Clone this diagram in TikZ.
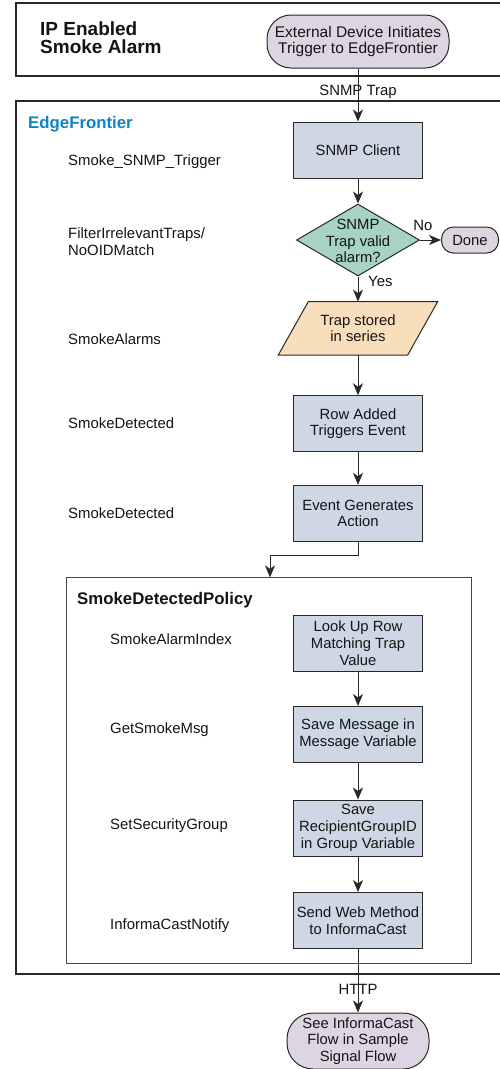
\documentclass[tikz,border=0pt]{standalone}
\usepackage{fontspec}
\setmainfont{Liberation Sans}
\usetikzlibrary{shapes.geometric,arrows.meta}
\definecolor{boxblue}{RGB}{206,215,227}
\definecolor{teal}{RGB}{166,211,198}
\definecolor{peach}{RGB}{249,222,188}
\definecolor{lav}{RGB}{221,214,226}
\definecolor{efblue}{RGB}{14,132,198}
\definecolor{linecol}{RGB}{40,40,40}
\definecolor{txt}{RGB}{20,20,20}
\begin{document}
\begin{tikzpicture}[x=1pt,y=-1pt,
  every node/.style={text=txt},
  boxfont/.style={font=\fontsize{14.8}{16.7}\selectfont},
  lblfont/.style={font=\fontsize{14.9}{16.7}\selectfont},
  proc/.style={boxfont, draw=linecol, fill=boxblue, line width=1pt, minimum width=129pt, minimum height=56pt, inner sep=1pt, align=center},
  term/.style={boxfont, draw=linecol, fill=lav, line width=1pt, inner sep=1pt, align=center},
  lbl/.style={lblfont, anchor=base west, inner sep=0pt, align=left},
  conlbl/.style={lblfont, anchor=base, inner sep=0pt},
  frame/.style={draw=linecol, line width=1.2pt},
  arr/.style={draw=linecol, line width=1pt, -{Stealth[length=12pt,width=10pt,inset=3.5pt]}}]

\useasboundingbox (0,0) rectangle (499,1069);

% frames
\draw[frame] (505,3) -- (16,3) -- (16,76) -- (505,76);
\draw[frame] (505,101) -- (16,101) -- (16,974) -- (505,974);
\node[draw=linecol!85, line width=1pt, minimum width=405pt, minimum height=386pt, inner sep=0pt] (policy) at (269.2,770.4) {};

% titles
\node[anchor=base west, inner sep=0pt, font=\bfseries\fontsize{19}{18.3}\selectfont, align=left] (title) at (40,53.3) {IP Enabled\\Smoke Alarm};
\node[anchor=base west, inner sep=0pt, font=\bfseries\fontsize{16.8}{18}\selectfont, text=efblue] (ef) at (28,128.3) {EdgeFrontier};
\node[anchor=base west, inner sep=0pt, font=\bfseries\fontsize{16.8}{18}\selectfont] (pol) at (77,604) {SmokeDetectedPolicy};

% flow nodes
\node[term, font=\fontsize{15.5}{16.7}\selectfont, minimum width=182pt, minimum height=53pt, rounded corners=24pt] (start) at (358,41.5) {External Device Initiates\\Trigger to EdgeFrontier};
\node[proc] (snmp) at (358,150) {SNMP Client};
\node[diamond, draw=linecol, fill=teal, line width=1pt, minimum width=123pt, minimum height=72pt, inner sep=0pt] (dec) at (358,240) {};
\node[boxfont, align=center, inner sep=0pt] (dectext) at (358,241) {SNMP\\Trap valid\\alarm?};
\node[term, minimum width=57pt, minimum height=26pt, rounded corners=12pt] (done) at (470,240) {Done};
\node[minimum width=159pt, minimum height=53pt, inner sep=0pt] (para) at (358,328.3) {};
\path[draw=linecol, fill=peach, line width=1pt] ([xshift=30pt]para.north west) -- (para.north east) -- ([xshift=-30pt]para.south east) -- (para.south west) -- cycle;
\node[boxfont, align=center, inner sep=0pt] (paratext) at (para) {Trap stored\\in series};
\node[proc] (row) at (358,423.7) {Row Added\\Triggers Event};
\node[proc] (event) at (358,513.3) {Event Generates\\Action};
\node[proc] (lookup) at (358,643.3) {Look Up Row\\Matching Trap\\Value};
\node[proc] (savemsg) at (358,734.5) {Save Message in\\Message Variable};
\node[proc] (saverec) at (358,828) {Save\\RecipientGroupID\\in Group Variable};
\node[proc] (send) at (358,920.5) {Send Web Method\\to InformaCast};
\node[term, minimum width=142pt, minimum height=56pt, rounded corners=26pt] (final) at (358,1041) {See InformaCast\\Flow in Sample\\Signal Flow};

% left labels
\node[lbl] (l1) at (68,165) {Smoke\_SNMP\_Trigger};
\node[lbl] (l2) at (68,255) {FilterIrrelevantTraps/\\NoOIDMatch};
\node[lbl] (l3) at (68,344) {SmokeAlarms};
\node[lbl] (l4) at (68,428.3) {SmokeDetected};
\node[lbl] (l5) at (68,518.3) {SmokeDetected};
\node[lbl] (l6) at (110,644) {SmokeAlarmIndex};
\node[lbl] (l7) at (110,733.3) {GetSmokeMsg};
\node[lbl] (l8) at (110,829.3) {SetSecurityGroup};
\node[lbl] (l9) at (110,929.3) {InformaCastNotify};

% connectors
\draw[arr] (start.south) -- (snmp.north);
\node[conlbl] (snmptrap) at (358,95) {SNMP Trap};
\draw[arr] (snmp.south) -- (dec.north);
\draw[arr] (dec.east) -- (done.west);
\node[conlbl] (no) at (423,230) {No};
\draw[arr] (dec.south) -- (para.north);
\node[lbl] (yes) at (368,286.7) {Yes};
\draw[arr] (para.south) -- (row.north);
\draw[arr] (row.south) -- (event.north);
\coordinate (bend) at (270,555);
\coordinate (polin) at (270,577.4);
\draw[arr] (event.south) |- (bend) -- (polin);
\draw[arr] (lookup.south) -- (savemsg.north);
\draw[arr] (savemsg.south) -- (saverec.north);
\draw[arr] (saverec.south) -- (send.north);
\draw[arr] (send.south) -- (final.north);
\node[conlbl] (http) at (358,994) {HTTP};
\end{tikzpicture}
\end{document}
